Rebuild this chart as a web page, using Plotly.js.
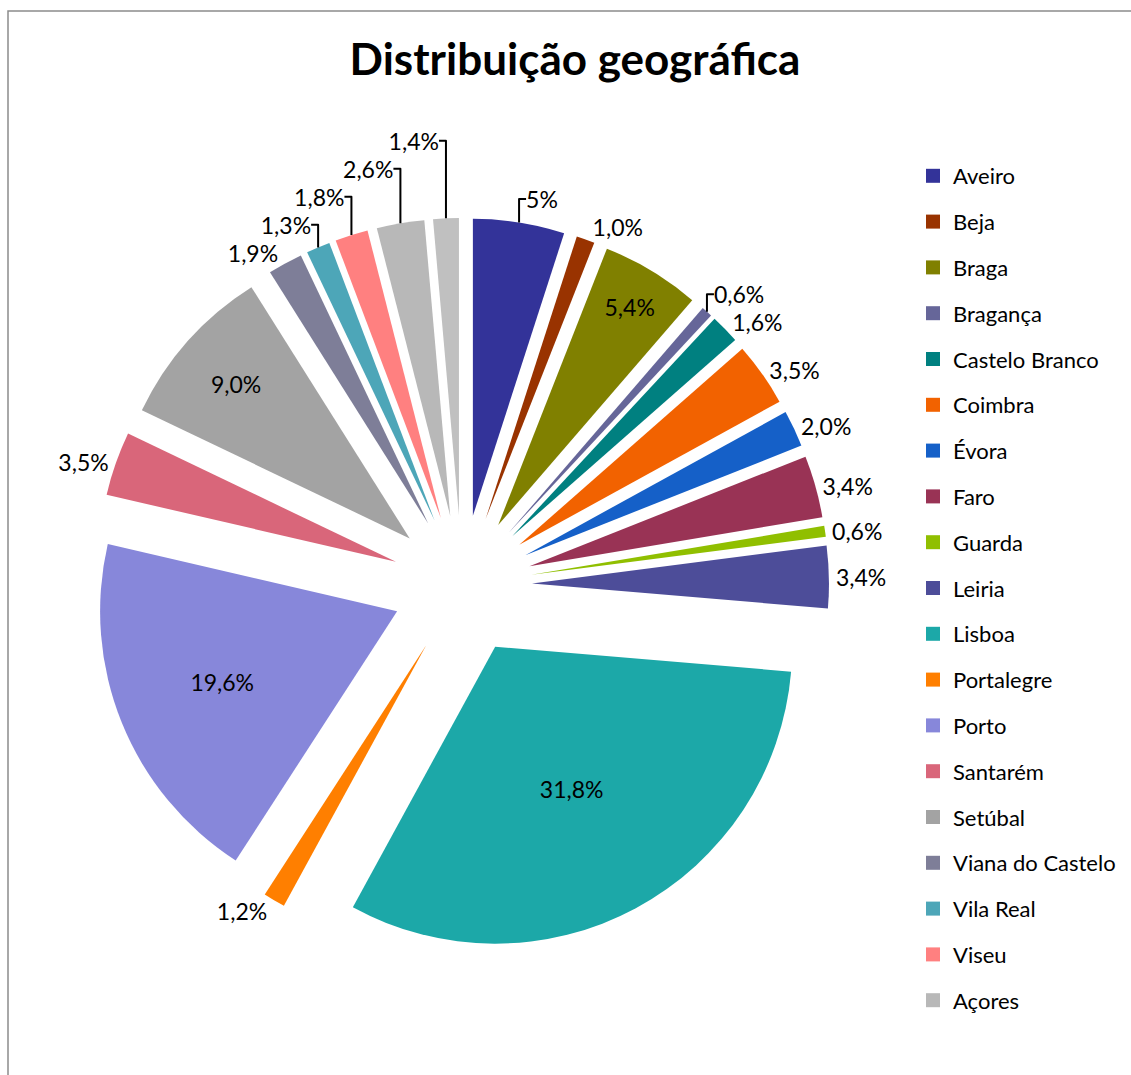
<!DOCTYPE html>
<html><head><meta charset="utf-8">
<script src="https://cdn.plot.ly/plotly-3.0.1.min.js"></script>
<style>html,body{margin:0;padding:0;background:#fff}#chart{width:1131px;height:1075px}</style>
</head><body><div id="chart"></div>
<script>
// ---- data ----
const regions = ['Aveiro','Beja','Braga','Bragança','Castelo Branco','Coimbra','Évora','Faro','Guarda','Leiria','Lisboa','Portalegre','Porto','Santarém','Setúbal','Viana do Castelo','Vila Real','Viseu','Açores','Madeira'];
const shares = [5.0,1.0,5.4,0.6,1.6,3.5,2.0,3.4,0.6,3.4,31.8,1.2,19.6,3.5,9.0,1.9,1.3,1.8,2.6,1.4];
const shareLabels = ['5%','1,0%','5,4%','0,6%','1,6%','3,5%','2,0%','3,4%','0,6%','3,4%','31,8%','1,2%','19,6%','3,5%','9,0%','1,9%','1,3%','1,8%','2,6%','1,4%'];
const legendCount = 19; // the reference legend lists the first 19 regions

// ---- styles ----
const colors = ['#333399','#993300','#808000','#666699','#008080','#F26200','#1560C8','#993355','#90BF00','#4D4D99',
                '#1CA8A8','#FF7F00','#8787DA','#D9667A','#A3A3A3','#7E7E98','#4DA6B8','#FF8080','#B8B8B8','#C0C0C0'];
const insideSet = new Set(['Braga','Lisboa','Porto','Setúbal']);
const FONT = 'Lato, "Open Sans", sans-serif';
const W = 1131, H = 1075;
const cx = 462, cy = 585, r = 297, pullPx = 70;
const pull = pullPx / r;
const half = r * (1 + pull);

const pie = {
  type: 'pie',
  labels: regions,
  values: shares,
  text: shareLabels,
  textinfo: 'text',
  hoverinfo: 'label+text',
  textposition: regions.map(n => insideSet.has(n) ? 'inside' : 'outside'),
  insidetextorientation: 'horizontal',
  sort: false,
  direction: 'clockwise',
  rotation: 0,
  pull: regions.map(() => pull),
  marker: {colors: colors, line: {width: 0}},
  textfont: {family: FONT, size: 23, color: '#000'},
  insidetextfont: {family: FONT, size: 23, color: '#000'},
  outsidetextfont: {family: FONT, size: 23, color: '#000'},
  showlegend: false,
  domain: {x: [(cx - half) / W, (cx + half) / W], y: [1 - (cy + half) / H, 1 - (cy - half) / H]}
};

const legendTraces = regions.slice(0, legendCount).map((name, i) => ({
  type: 'scatter', x: [null], y: [null], mode: 'markers', name: name,
  legendgroup: 'g' + i, hoverinfo: 'skip',
  marker: {symbol: 'square', size: 14, color: colors[i]}
}));

const layout = {
  width: W, height: H,
  margin: {l: 0, r: 0, t: 0, b: 0},
  paper_bgcolor: '#fff', plot_bgcolor: 'rgba(0,0,0,0)',
  font: {family: FONT, color: '#000'},
  title: {text: 'Distribuição geográfica', font: {family: FONT, size: 44, weight: 'bold', color: '#000'},
          x: 575 / W, xanchor: 'center', xref: 'container', y: 1 - 60 / H, yanchor: 'middle', yref: 'container'},
  xaxis: {visible: false, domain: [0.99, 1]},
  yaxis: {visible: false, domain: [0.99, 1]},
  showlegend: true,
  legend: {x: 913 / W, xanchor: 'left', y: 1 - 155 / H, yanchor: 'top', bgcolor: 'rgba(0,0,0,0)',
           font: {family: FONT, size: 22, color: '#000'}, tracegroupgap: 14.2, itemclick: false, itemdoubleclick: false},
  shapes: [{type: 'path', xref: 'paper', yref: 'paper',
            path: `M ${8 / W},0 L ${8 / W},${1 - 11 / H} L 1,${1 - 11 / H}`,
            line: {color: '#8c8c8c', width: 1.5}}]
};

Plotly.newPlot('chart', [pie].concat(legendTraces), layout, {displayModeBar: false, staticPlot: true});
</script></body></html>
